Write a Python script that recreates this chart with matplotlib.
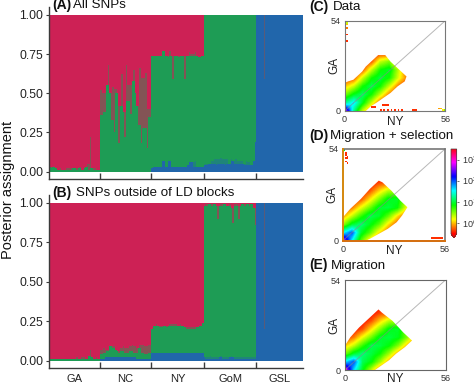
import numpy as np
import matplotlib
matplotlib.use("Agg")
import matplotlib.pyplot as plt
from matplotlib.patches import Polygon
from matplotlib.colors import Normalize
from matplotlib.cm import ScalarMappable

plt.rcParams['font.family'] = ['Liberation Sans', 'DejaVu Sans']
plt.rcParams['mathtext.fontset'] = 'custom'
plt.rcParams['mathtext.rm'] = 'Liberation Sans'

W, H = 474, 385
RED, GREEN, BLUE = '#CD2155', '#1E9C55', '#2166AB'
DARK = '#3a3a3a'

groups = ['GA', 'NC', 'NY', 'GoM', 'GSL']
yticks = [0, .25, .5, .75, 1]
ytick_labels = ['0.00', '0.25', '0.50', '0.75', '1.00']

# Panel A: top of the blue layer and top of the green layer per individual
a_green_GA = [.03,.02,.03,.03,.02,.01,.01,.02,.01,.01,.01,.02,.01,.02,.01,.02,.02,.02,.01,.02,.03,.01,.01,.02,.03,.05,.01,.22,.02,.01,.02,.01,.01,.01]
a_green_NC = [.52,.36,.50,.38,.55,.68,.50,.33,.54,.25,.53,.50,.18,.42,.62,.38,.22,.68,.45,.55,.37,.58,.65,.50,.42,.30,.66,.18,.60,.28,.63,.15,.40,.35]
a_green_NY = [.74,.74,.74,.74,.74,.74,.74,.77,.77,.74,.74,.73,.77,.74,.59,.74,.74,.74,.73,.74,.74,.74,.59,.74,.74,.76,.74,.75,.74,.76,.74,.73,.73,.74,.74]
a_green_GoM = [1.0] * 35
a_green_GSL = [1.0] * 5 + [.59] + [1.0] * 25
a_blue_GA = [0.0] * 34
a_blue_NC = [0.0] * 34
a_blue_NY = [.02,.03,.03,.03,.03,.03,.03,.07,.07,.03,.03,.07,.07,.03,.03,.03,.03,.03,.03,.03,.03,.03,.03,.03,.04,.06,.06,.06,.03,.07,.03,.03,.03,.03,.03]
a_blue_GoM = [.04,.05,.04,.05,.05,.07,.05,.08,.04,.08,.05,.09,.05,.08,.04,.08,.05,.05,.08,.07,.05,.08,.05,.07,.05,.07,.05,.04,.07,.04,.06,.04,.04,.07,.19]
a_blue_GSL = [1.0] * 5 + [.59] + [1.0] * 25

# Panel B
b_green_GA = [.01,.01,.01,.01,.01,.01,.01,.01,.01,.01,.01,.01,.01,.01,.01,.01,.01,.01,.02,.01,.01,.02,.01,.02,.01,.01,.03,.07,.02,.01,.01,.02,.01,.01]
b_green_NC = [.07,.04,.08,.05,.07,.06,.09,.09,.08,.09,.07,.06,.05,.08,.06,.09,.05,.08,.05,.09,.06,.1,.05,.09,.05,.08,.1,.05,.1,.04,.09,.04,.1,.05]
b_green_NY = [.20,.22,.22,.23,.22,.21,.22,.21,.22,.22,.21,.22,.23,.22,.23,.22,.23,.22,.22,.23,.22,.22,.21,.20,.21,.20,.21,.20,.21,.20,.21,.21,.22,.22,.24]
b_green_GoM = [.98,.99,.98,.99,.99,.98,.99,.99,.98,.90,.98,.99,.98,.99,.99,.98,.98,.99,.97,.87,.99,.98,.99,.90,.98,.99,.99,.98,.99,.99,.98,.99,.99,.97,.86]
b_green_GSL = [1.0] * 5 + [.2] + [1.0] * 25
b_blue_GA = [0.0] * 34
b_blue_NC = [.01,.01,.01,.02,.02,.02,.02,.02,.02,.02,.02,.02,.02,.02,.02,.02,.02,.02,.02,.02,.02,.02,.02,.02,.01,.01,.01,.01,.01,.01,.01,.01,.01,.01]
b_blue_NY = [.05] * 35
b_blue_GoM = [.02,.01,.02,.01,.03,.01,.02,.01,.02,.01,.02,.03,.01,.02,.01,.02,.01,.02,.03,.02,.01,.02,.01,.02,.01,.02,.01,.02,.01,.02,.01,.02,.01,.02,.01]
b_blue_GSL = [1.0] * 5 + [.2] + [1.0] * 25

# Frequency spectra: log10 counts sampled every 5 classes (rows: GA 0,5,...,55; cols: NY 0,5,...,55)
L = -.5
spec_C = [
 [2.9,1.2,.3,-.3,L,L,L,L,L,L,L,L],
 [1.2,1.6,.9,.3,-.3,L,L,L,L,L,L,L],
 [.5,.9,1.1,.8,.3,-.2,L,L,L,L,L,L],
 [0,.3,.8,1.05,.8,.3,-.2,L,L,L,L,L],
 [-.4,-.3,.3,.8,1.0,.8,.25,-.2,L,L,L,L],
 [L,L,-.3,.3,.8,.95,.35,-.3,L,L,L,L],
 [L,L,L,-.3,.3,.5,-.1,L,L,L,L,L],
 [L,L,L,L,-.4,-.4,L,L,L,L,L,L],
 [L]*12,[L]*12,[L]*12,[L]*12]
spec_D = [
 [3.0,1.5,.6,0,-.4,L,L,L,L,L,L,L],
 [1.5,2.0,.95,.6,.1,-.3,L,L,L,L,L,L],
 [.4,.95,1.15,.9,.6,.1,-.3,L,L,L,L,L],
 [-.1,.3,.7,1.05,.95,.6,.1,-.3,L,L,L,L],
 [-.4,-.2,.2,.55,.95,1.0,.85,.2,-.3,L,L,L],
 [L,L,-.3,.1,.5,.9,.95,.4,L,L,L,L],
 [L,L,L,-.3,.05,.35,.4,-.1,L,L,L,L],
 [L,L,L,L,-.35,-.3,-.3,L,L,L,L,L],
 [L]*12,[L]*12,[L]*12,[L]*12]
spec_E = [
 [3.0,1.6,.9,.3,-.3,L,L,L,L,L,L,L],
 [1.6,2.0,1.05,.85,.4,-.1,L,L,L,L,L,L],
 [.5,.95,1.15,1.0,.8,.4,-.1,L,L,L,L,L],
 [0,.3,.7,1.05,1.0,.85,.5,.0,-.35,L,L,L],
 [-.4,-.2,.2,.55,.95,1.0,.9,.5,-.1,L,L,L],
 [L,L,-.3,.1,.5,.9,.95,.5,L,L,L,L],
 [L,L,L,-.3,.05,.35,.4,-.1,L,L,L,L],
 [L,L,L,L,-.35,-.3,-.3,L,L,L,L,L],
 [L]*12,[L]*12,[L]*12,[L]*12]

# Outlines of the occupied part of each spectrum (NY class, GA class)
edge_C = [(0,0),(0,17),(2,18),(5,19),(8,22),(10,24),(12,27),(14,29),(17,32),(19,34),(23,34),(26,30),(29,27),(32,24),(35,21),(34,18),(30,15),(26,11),(22,8),(18,5),(15,3),(12,0)]
edge_D = [(0,0),(0,14),(4,19),(10,25),(15,31),(20,36),(22,35),(27,30),(32,24),(36,20),(33,15),(30,11),(25,7),(20,4),(15,1),(13,0)]
edge_E = [(0,0),(0,15),(3,20),(8,26),(13,31),(19,37),(21,35),(27,30),(33,23),(38,18),(34,14),(29,10),(25,6),(21,3),(17,0)]

# Isolated occupied classes (NY class, GA class, log10 count)
extra_C_i = [0,1,0,1,0,1,0,1,1,1,0,0,0,0,0,0,0,0,21,22,23,24,20,22,24,26,28,30,32,38,39,40,15,16,17,53,54,55,56]
extra_C_j = [54,54,53,53,52,52,51,50,46,42,38,34,30,28,26,24,22,20,3,3,3,3,0,0,0,0,0,0,0,0,0,0,2,2,2,1,1,0,0]
extra_C_v = [.9,.6,.7,.3,.4,.0,.1,-.2,-.4,-.4,-.4,-.4,-.3,-.3,-.3,-.2,-.1,-.1,-.4,-.4,-.4,-.4,-.4,-.4,-.4,-.4,-.4,-.4,-.4,-.4,-.4,-.4,-.4,-.4,-.4,-.1,.0,.1,.5]
extra_D_i = [0,1,1,2,1,2,1,2,49,50,51,52,53,54,55]
extra_D_j = [54,52,51,50,49,49,47,46,1,1,1,1,1,1,1]
extra_D_v = [.9]+[-.4]*14


def px_axes(l, t, r, b):
    return fig.add_axes([l / W, 1 - b / H, (r - l) / W, (b - t) / H])


fig = plt.figure(figsize=(W / 100, H / 100), dpi=100)


def layer(ax, x, top, color):
    """One ancestry layer; single-individual excursions are drawn muted, as in the blurred reference."""
    top = np.asarray(top)
    pad = np.r_[top[0], top, top[-1]]
    med = np.median(np.c_[pad[:-2], pad[1:-1], pad[2:]], axis=1)
    lo, hi = np.minimum(top, med), np.maximum(top, med)
    ax.fill_between(x, 0, np.append(hi, hi[-1]), step='post', color=color, lw=0, alpha=.42)
    ax.fill_between(x, 0, np.append(lo, lo[-1]), step='post', color=color, lw=0)


def structure(box, blue_groups, green_groups, title_bold, title_rest, show_labels, ty, tdx):
    ax = px_axes(*box)
    blue = np.concatenate(blue_groups)
    green = np.concatenate(green_groups)
    n = len(blue)
    x = np.arange(n + 1)
    ax.fill_between([0, n], 0, 1, color=RED, lw=0)
    layer(ax, x, green, GREEN)
    layer(ax, x, blue, BLUE)
    ax.set_xlim(0, n)
    ax.set_ylim(-.047, 1.05)
    sizes = np.cumsum([len(g) for g in blue_groups])
    starts = np.concatenate([[0], sizes[:-1]])
    ax.set_xticks(sizes[:-1])
    ax.set_xticklabels([])
    ax.tick_params(axis='x', which='major', direction='in', length=4, width=1, color=DARK, bottom=True)
    if show_labels:
        ax.set_xticks((starts + sizes) / 2, minor=True)
        ax.set_xticklabels(groups, minor=True, fontsize=8, color='#222222')
        ax.tick_params(axis='x', which='minor', length=0, pad=4)
    ax.set_yticks(yticks)
    ax.set_yticklabels(ytick_labels, fontsize=8.8, color='#222222')
    ax.tick_params(axis='y', length=2.5, width=.8, color=DARK, pad=1.5)
    for s in ('top', 'right'):
        ax.spines[s].set_visible(False)
    for s in ('left', 'bottom'):
        ax.spines[s].set_color(DARK)
        ax.spines[s].set_linewidth(1)
    fig.text((box[0] + 3) / W, 1 - ty / H, title_bold, fontsize=10, fontweight='bold', va='center', color='#111111')
    fig.text((box[0] + tdx) / W, 1 - ty / H, title_rest, fontsize=9.6, va='center', color='#111111')
    return ax


structure((49, 7, 303, 179), [a_blue_GA, a_blue_NC, a_blue_NY, a_blue_GoM, a_blue_GSL],
          [a_green_GA, a_green_NC, a_green_NY, a_green_GoM, a_green_GSL], '(A)', 'All SNPs', False, 5, 24)
structure((49, 195, 303, 368), [b_blue_GA, b_blue_NC, b_blue_NY, b_blue_GoM, b_blue_GSL],
          [b_green_GA, b_green_NC, b_green_NY, b_green_GoM, b_green_GSL], '(B)', 'SNPs outside of LD blocks', True, 193, 27)
fig.text(8 / W, 1 - 190 / H, 'Posterior assignment', rotation=90, fontsize=10.5, va='center', ha='center', color='#111111')

norm = Normalize(-.53, 3.5)
cmap = plt.get_cmap('hsv').copy()


def spectrum(box, table, edge, ex_i, ex_j, ex_v, title_bold, title_rest, tx, tdx, ty, spine, lw, xpad):
    ax = px_axes(*box)
    im = ax.imshow(np.array(table, float), origin='lower', extent=(-2.5, 57.5, -2.5, 57.5), cmap=cmap, norm=norm,
                   interpolation='bilinear', interpolation_stage='data', aspect='auto')
    clip = Polygon(edge, closed=True, transform=ax.transData, fc='none', ec='none')
    ax.add_patch(clip)
    im.set_clip_path(clip)
    cells = np.full((55, 57), np.nan)
    cells[np.array(ex_j), np.array(ex_i)] = ex_v
    ax.pcolormesh(np.arange(58), np.arange(56), np.ma.masked_invalid(cells), cmap=cmap, norm=norm, lw=0)
    ax.plot([0, 57], [0, 55], color='#888888', lw=.7, alpha=.6)
    ax.set_xlim(0, 57)
    ax.set_ylim(0, 55)
    ax.set_xticks([0, 57])
    ax.set_yticks([0, 55])
    ax.set_xticklabels(['0', '56'], fontsize=6.5, color='#333333')
    ax.set_yticklabels(['0', '54'], fontsize=6.5, color='#333333')
    ax.tick_params(length=0, pad=3)
    ax.set_xlabel('NY', fontsize=8.5, labelpad=xpad, color='#222222')
    ax.set_ylabel('GA', fontsize=8.5, labelpad=-7, color='#222222')
    for s in ax.spines.values():
        s.set_color(spine)
        s.set_linewidth(lw)
    fig.text(tx / W, 1 - ty / H, title_bold, fontsize=10, fontweight='bold', va='center', color='#111111')
    fig.text((tx + tdx) / W, 1 - ty / H, title_rest, fontsize=9.6, va='center', color='#111111')
    return ax


spectrum((344.5, 20.5, 445.5, 111), spec_C, edge_C, extra_C_i, extra_C_j, extra_C_v, '(C)', 'Data', 309, 24, 6.5, '#777777', .8, -6)
axD = spectrum((343, 149, 445, 240.5), spec_D, edge_D, extra_D_i, extra_D_j, extra_D_v, '(D)', 'Migration + selection', 309, 21, 136, '#777777', 1.2, -6)
# orange boundary classes of panel D along the left and bottom edges
axD.plot([0, 0], [0, 55], color='#D88A10', lw=1.4, clip_on=False, zorder=5)
axD.plot([0, 57], [0, 0], color='#D8700F', lw=1.4, clip_on=False, zorder=5)
spectrum((345, 280, 445.5, 370), spec_E, edge_E, [0], [0], [3.0], '(E)', 'Migration', 309, 22, 265.5, '#666666', .8, -7.5)

cax = fig.add_axes([451 / W, 1 - 237.7 / H, 5.7 / W, 88.7 / H])
cb = fig.colorbar(ScalarMappable(norm=norm, cmap=cmap), cax=cax, extend='min', extendfrac=.045)
cb.cmap.set_under('white')
cb.set_ticks([0, 1, 2, 3])
cb.set_ticklabels(['$10^{0}$', '$10^{1}$', '$10^{2}$', '$10^{3}$'], fontsize=6.5, color='#333333')
cax.tick_params(length=1.5, width=.5, pad=2.5, color='#333333')
cb.outline.set_linewidth(.5)
cb.outline.set_edgecolor('#444444')

fig.savefig('out.png', dpi=100)
